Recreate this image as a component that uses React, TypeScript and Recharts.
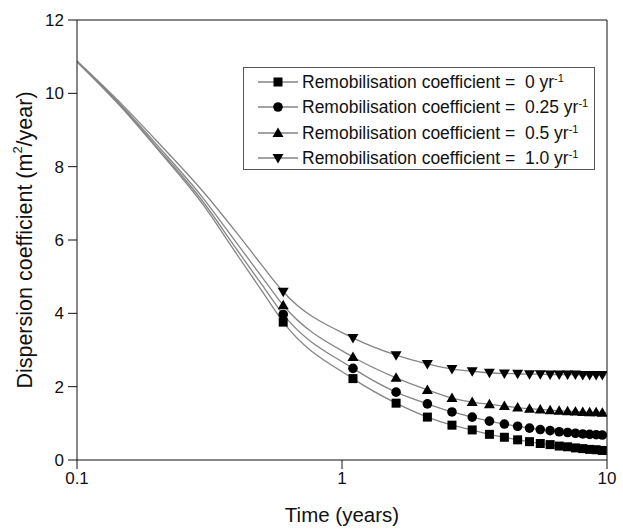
import React from "react";
import {
  ComposedChart,
  Line,
  XAxis,
  YAxis,
  ReferenceLine,
  Label,
} from "recharts";

const curveTimes = [0.1, 0.15, 0.2, 0.3, 0.4, 0.5];
const markerTimes = [
  0.6, 1.1, 1.6, 2.1, 2.6, 3.1, 3.6, 4.1, 4.6, 5.1, 5.6, 6.1, 6.6, 7.1, 7.6,
  8.1, 8.6, 9.1, 9.6,
];
const endTime = 10;

// remobilisation 0 yr-1
const r0Curve = [10.86, 9.55, 8.5, 6.95, 5.62, 4.6];
const r0Markers = [
  3.76, 2.22, 1.55, 1.17, 0.95, 0.82, 0.7, 0.62, 0.55, 0.5, 0.45, 0.42, 0.38,
  0.36, 0.33, 0.31, 0.29, 0.28, 0.26,
];
const r0End = 0.25;

// remobilisation 0.25 yr-1
const r025Curve = [10.86, 9.57, 8.54, 7.03, 5.75, 4.77];
const r025Markers = [
  3.97, 2.5, 1.85, 1.53, 1.31, 1.17, 1.06, 0.98, 0.92, 0.87, 0.83, 0.8, 0.77,
  0.75, 0.73, 0.71, 0.7, 0.69, 0.68,
];
const r025End = 0.67;

// remobilisation 0.5 yr-1
const r05Curve = [10.87, 9.6, 8.6, 7.13, 5.92, 4.98];
const r05Markers = [
  4.22, 2.81, 2.24, 1.91, 1.69, 1.58, 1.52, 1.47, 1.43, 1.4, 1.38, 1.36, 1.34,
  1.33, 1.32, 1.31, 1.3, 1.3, 1.29,
];
const r05End = 1.29;

// remobilisation 1.0 yr-1
const r1Curve = [10.88, 9.65, 8.7, 7.31, 6.2, 5.3];
const r1Markers = [
  4.59, 3.33, 2.86, 2.62, 2.48, 2.42, 2.38, 2.36, 2.35, 2.34, 2.34, 2.33, 2.33,
  2.33, 2.33, 2.32, 2.32, 2.32, 2.32,
];
const r1End = 2.32;

const xTicks = [0.1, 1, 10];
const yTicks = [0, 2, 4, 6, 8, 10, 12];

const legendValues = ["0", "0.25", "0.5", "1.0"];
const shapes = ["square", "circle", "triangle", "down"];
const keys = ["r0", "r025", "r05", "r1"];

const rows: any[] = [];
curveTimes.forEach((t, i) =>
  rows.push({ t, m: false, r0: r0Curve[i], r025: r025Curve[i], r05: r05Curve[i], r1: r1Curve[i] })
);
markerTimes.forEach((t, i) =>
  rows.push({ t, m: true, r0: r0Markers[i], r025: r025Markers[i], r05: r05Markers[i], r1: r1Markers[i] })
);
rows.push({ t: endTime, m: false, r0: r0End, r025: r025End, r05: r05End, r1: r1End });

const FONT = "'Liberation Sans', Arial, sans-serif";
const LINE = "#858585";

function Marker({ shape, cx, cy }: { shape: string; cx: number; cy: number }) {
  if (shape === "square")
    return <rect x={cx - 4.5} y={cy - 4.5} width={9} height={9} fill="#000" />;
  if (shape === "circle") return <circle cx={cx} cy={cy} r={4.8} fill="#000" />;
  if (shape === "triangle")
    return (
      <polygon
        points={`${cx},${cy - 5.5} ${cx + 5.5},${cy + 4} ${cx - 5.5},${cy + 4}`}
        fill="#000"
      />
    );
  return (
    <polygon
      points={`${cx - 5.5},${cy - 4} ${cx + 5.5},${cy - 4} ${cx},${cy + 5.5}`}
      fill="#000"
    />
  );
}

const makeDot = (shape: string) => (props: any) => {
  const { cx, cy, payload, index } = props;
  if (!payload.m || cx == null || cy == null)
    return <g key={`${shape}-${index}`} />;
  return (
    <g key={`${shape}-${index}`}>
      <Marker shape={shape} cx={cx} cy={cy} />
    </g>
  );
};

const LegendBox = () => (
  <div
    style={{
      position: "absolute",
      left: 243,
      top: 67,
      border: "1px solid #555",
      width: 352,
      height: 103,
      boxSizing: "border-box",
      background: "#fff",
      fontFamily: FONT,
      fontSize: 17.5,
      color: "#111",
      paddingTop: 1,
    }}
  >
    {shapes.map((s, i) => (
      <div key={s} style={{ display: "flex", alignItems: "center", height: 25.5 }}>
        <svg width={58} height={16} style={{ marginLeft: 12, flexShrink: 0 }}>
          <line x1={2} y1={8} x2={42} y2={8} stroke={LINE} strokeWidth={1.3} />
          <Marker shape={s} cx={22} cy={8} />
        </svg>
        <span
          style={{
            whiteSpace: "pre",
            marginLeft: -12,
            lineHeight: "20px",
            flexShrink: 0,
          }}
        >
          {"Remobilisation coefficient =  "}
          {legendValues[i]}
          {" yr"}
          <sup style={{ fontSize: 11, verticalAlign: "6px", lineHeight: 0 }}>-1</sup>
        </span>
      </div>
    ))}
  </div>
);

const YTitle = () => {
  const cx = 25;
  const cy = 240;
  return (
    <text
      x={cx}
      y={cy}
      transform={`rotate(-90, ${cx}, ${cy})`}
      textAnchor="middle"
      dominantBaseline="central"
      fontFamily={FONT}
      fontSize={21.5}
      fill="#111"
    >
      Dispersion coefficient (m
      <tspan dy={-8} fontSize={13}>
        2
      </tspan>
      <tspan dy={8}>/year)</tspan>
    </text>
  );
};

export default function App() {
  return (
    <div style={{ position: "absolute", left: 0, top: 0, background: "#fff" }}>
      <ComposedChart
        width={623}
        height={530}
        data={rows}
        margin={{ top: 20, right: 16, left: 0, bottom: 0 }}
      >
        <XAxis
          dataKey="t"
          type="number"
          scale="log"
          domain={[0.1, 10]}
          ticks={xTicks}
          allowDataOverflow
          height={70}
          tickSize={9}
          tickMargin={3}
          stroke="#111"
          tick={{ fill: "#111", fontSize: 17, fontFamily: FONT }}
          tickFormatter={(v: number) => String(v)}
        >
          <Label
            value="Time (years)"
            position="insideBottom"
            offset={8}
            style={{ fill: "#111", fontSize: 20.5, fontFamily: FONT }}
          />
        </XAxis>
        <YAxis
          type="number"
          domain={[0, 12]}
          ticks={yTicks}
          width={77}
          tickSize={9}
          tickMargin={4}
          stroke="#111"
          tick={{ fill: "#111", fontSize: 17, fontFamily: FONT }}
          label={<YTitle />}
        />
        <ReferenceLine y={12} stroke="#111" />
        <ReferenceLine x={10} stroke="#111" />
        {keys.map((k, i) => (
          <Line
            key={k}
            dataKey={k}
            type="monotone"
            stroke={LINE}
            strokeWidth={1.3}
            dot={makeDot(shapes[i])}
            activeDot={false}
            isAnimationActive={false}
          />
        ))}
      </ComposedChart>
      <LegendBox />
    </div>
  );
}
